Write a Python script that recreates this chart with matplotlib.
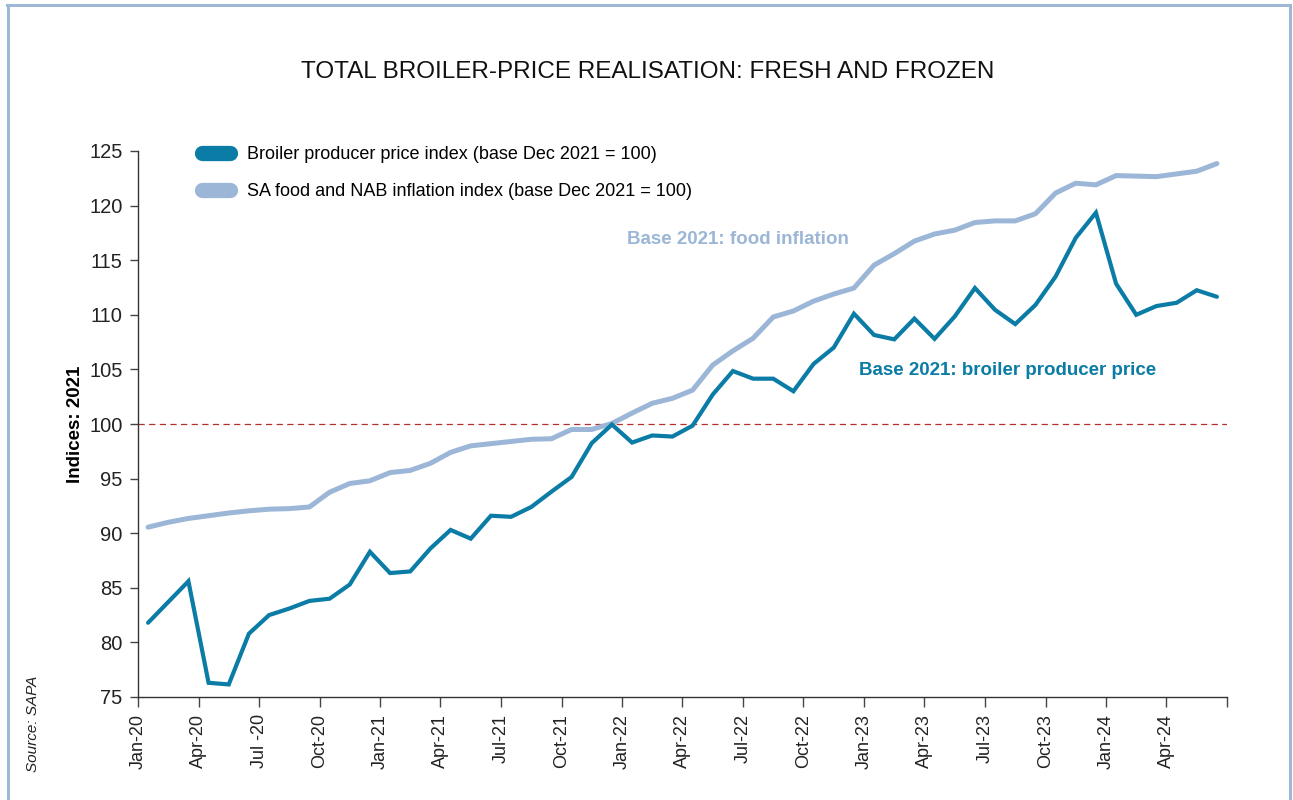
import numpy as np
import matplotlib
matplotlib.use('Agg')
from matplotlib import pyplot as plt
from matplotlib.lines import Line2D
import matplotlib.font_manager as fm

# fonts: narrow face if present
names = {f.name for f in fm.fontManager.ttflist}
NARROW = 'Liberation Sans Narrow' if 'Liberation Sans Narrow' in names else 'Liberation Sans'
REG = 'Liberation Sans'

# data (Jan-20 .. Jun-24, monthly)
tick_labels = ['Jan-20', 'Apr-20', 'Jul -20', 'Oct-20', 'Jan-21', 'Apr-21', 'Jul-21', 'Oct-21',
               'Jan-22', 'Apr-22', 'Jul-22', 'Oct-22', 'Jan-23', 'Apr-23', 'Jul-23', 'Oct-23',
               'Jan-24', 'Apr-24', '']

broiler = [81.8, 83.7, 85.6, 76.3, 76.15, 80.8, 82.5, 83.1, 83.8, 84.0, 85.3, 88.3,
           86.35, 86.5, 88.6, 90.3, 89.5, 91.6, 91.5, 92.4, 93.8, 95.15, 98.25, 99.95,
           98.3, 98.95, 98.85, 99.85, 102.7, 104.85, 104.15, 104.15, 103.0, 105.5, 107.0, 110.1,
           108.15, 107.75, 109.65, 107.8, 109.85, 112.45, 110.45, 109.15, 110.9, 113.5, 117.05, 119.35,
           112.85, 110.0, 110.8, 111.1, 112.25, 111.65]

food = [90.55, 91.0, 91.35, 91.6, 91.85, 92.05, 92.2, 92.25, 92.4, 93.75, 94.55, 94.8,
        95.55, 95.75, 96.4, 97.4, 98.0, 98.2, 98.4, 98.6, 98.65, 99.5, 99.5, 100.05,
        101.0, 101.9, 102.35, 103.1, 105.4, 106.7, 107.85, 109.8, 110.35, 111.25, 111.9, 112.45,
        114.55, 115.6, 116.75, 117.4, 117.75, 118.45, 118.6, 118.6, 119.25, 121.15, 122.05, 121.9,
        122.75, 122.7, 122.65, 122.9, 123.15, 123.85]

labels = ['Broiler producer price index (base Dec 2021 = 100)',
          'SA food and NAB inflation index (base Dec 2021 = 100)']

DARK = '#0a7ca6'
LIGHT = '#9bb6d6'

fig = plt.figure(figsize=(12.93, 8.0), dpi=100)
ax = fig.add_axes([138/1293, 1-697/800, (1227-138)/1293, (697-151)/800])

x = np.arange(len(broiler)) + 0.5
ax.axhline(100, color='#b5302a', lw=0.9, ls=(0, (5, 3.5)), zorder=1)
ax.plot(x, food, color=LIGHT, lw=3.6, solid_joinstyle='round', solid_capstyle='round', zorder=2)
ax.plot(x, broiler, color=DARK, lw=3.0, solid_joinstyle='miter', solid_capstyle='round', zorder=3)

ax.set_xlim(0, len(broiler))
ax.set_ylim(75, 125)
ax.set_xticks(np.arange(0, len(broiler) + 1, 3))
ax.set_xticklabels(tick_labels, rotation=90, fontsize=13, family=REG, color='#222222')
ax.set_yticks(np.arange(75, 126, 5))
ax.set_yticklabels([str(v) for v in range(75, 126, 5)], fontsize=14.5, family=NARROW, color='#222222')
ax.tick_params(axis='x', length=7, width=1, pad=5, color='#444444')
ax.tick_params(axis='y', length=6, width=1, pad=5, color='#444444')
for s in ['top', 'right']:
    ax.spines[s].set_visible(False)
for s in ['left', 'bottom']:
    ax.spines[s].set_color('#333333')
    ax.spines[s].set_linewidth(1)

ax.set_ylabel('Indices: 2021', fontsize=13.5, family=NARROW, fontweight='bold', labelpad=4)

ax.text(24.25, 116.85, 'Base 2021: food inflation', color=LIGHT, fontsize=13.5,
        family=NARROW, fontweight='bold', va='center', ha='left')
ax.text(35.75, 104.9, 'Base 2021: broiler producer price', color=DARK, fontsize=13.5,
        family=NARROW, fontweight='bold', va='center', ha='left')

handles = [Line2D([], [], color=DARK, lw=11, solid_capstyle='round'),
           Line2D([], [], color=LIGHT, lw=11, solid_capstyle='round')]
leg = ax.legend(handles, labels, loc='upper left', bbox_to_anchor=(202/1293, 1-146/800),
                bbox_transform=fig.transFigure, frameon=False, handlelength=1.55,
                handletextpad=0.95, labelspacing=1.1, borderpad=0, borderaxespad=0,
                prop={'family': NARROW, 'size': 13})

fig.text(648/1293, 1-72/800, 'TOTAL BROILER-PRICE REALISATION: FRESH AND FROZEN',
         ha='center', va='center', fontsize=17.5, family=NARROW, color='#111111')
fig.text(33/1293, 1-724/800, 'Source: SAPA', rotation=90, ha='center', va='center',
         fontsize=11, family=NARROW, style='italic', color='#222222')

# frame around the panel
bc = '#9fb8d6'
fig.add_artist(Line2D([7/1293, 1290/1293], [1-5/800, 1-5/800], color=bc, lw=2.2))
fig.add_artist(Line2D([7.5/1293, 7.5/1293], [0, 1-5/800], color=bc, lw=2.2))
fig.add_artist(Line2D([1290/1293, 1290/1293], [0, 1-5/800], color=bc, lw=2.2))

fig.savefig('out.png', dpi=100)
